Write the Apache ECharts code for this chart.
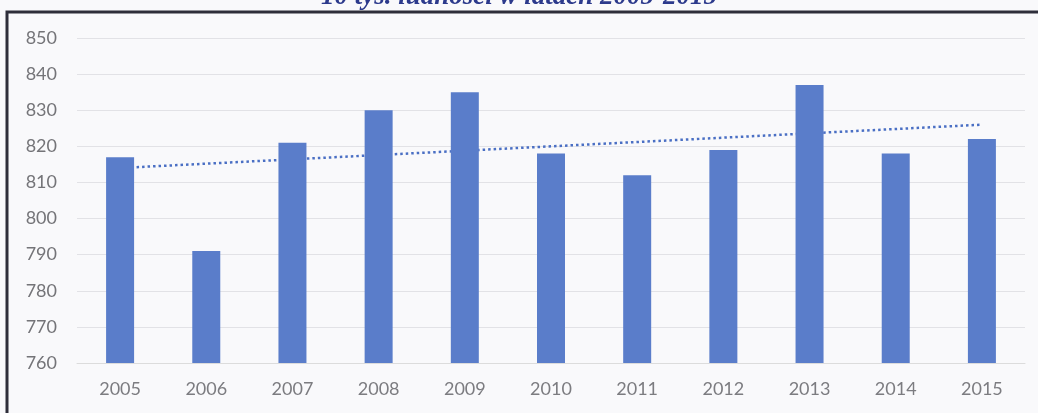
<!DOCTYPE html>
<html>
<head>
<meta charset="utf-8">
<script src="https://cdn.jsdelivr.net/npm/echarts@6/dist/echarts.min.js"></script>
<style>
	html, body { margin: 0; padding: 0; background: #f9f9fb; }
	#chart { width: 1038px; height: 413px; }
</style>
</head>
<body>
<div id="chart"></div>
<script>
// lata i wartości
const years = ['2005', '2006', '2007', '2008', '2009', '2010', '2011', '2012', '2013', '2014', '2015'];
const values = [817, 791, 821, 830, 835, 818, 812, 819, 837, 818, 822];
// linia trendu: początek i koniec, środek pusty
const trend = [814, null, null, null, null, null, null, null, null, null, 826];
const yTicks = [760, 850, 10]; // min, max, krok
const titleText = '10 tys. ludności w latach 2005-2015';

const chart = echarts.init(document.getElementById('chart'));

const option = {
	backgroundColor: '#f9f9fb',
	animation: false,
	grid: {
		left: 77,
		right: 13,
		top: 38,
		bottom: 50,
	},
	xAxis: {
		type: 'category',
		data: years,
		axisLine: { lineStyle: { color: '#dcdcdc' } },
		axisTick: { show: false },
		axisLabel: {
			color: '#7c7c80',
			fontFamily: 'Lato',
			fontSize: 18,
			margin: 17,
		},
	},
	yAxis: {
		type: 'value',
		min: yTicks[0],
		max: yTicks[1],
		interval: yTicks[2],
		axisLine: { show: false },
		axisTick: { show: false },
		splitLine: { lineStyle: { color: '#e2e2e6' } },
		axisLabel: {
			color: '#747478',
			fontFamily: 'Lato',
			fontSize: 18,
			margin: 20,
		},
	},
	series: [
		{
			// trend pod słupkami
			type: 'line',
			data: trend,
			connectNulls: true,
			symbol: 'none',
			z: 1,
			lineStyle: {
				color: '#4a6fc4',
				width: 2.5,
				type: [2.5, 3],
			},
		},
		{
			type: 'bar',
			data: values,
			barWidth: 28,
			z: 2,
			itemStyle: { color: '#5a7dca' },
		},
	],
	graphic: [
		{
			type: 'text',
			left: 'center',
			top: -16,
			style: {
				text: titleText,
				fill: '#2c3a8c',
				font: 'italic bold 27px "Liberation Serif"',
			},
		},
		// ramka
		{
			type: 'rect',
			shape: { x: 7, y: 12, width: 1040, height: 410 },
			style: { fill: 'none', stroke: '#2e2e3a', lineWidth: 3 },
			z: 10,
		},
	],
};

chart.setOption(option);
</script>
</body>
</html>
